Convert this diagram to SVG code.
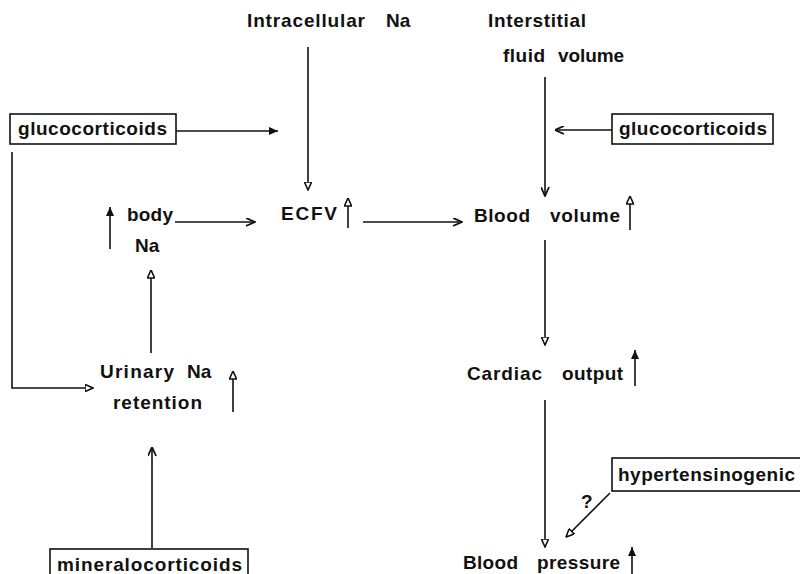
<svg xmlns="http://www.w3.org/2000/svg" width="800" height="574" viewBox="0 0 800 574">
<style>
text{font-family:"Liberation Sans",Arial,Helvetica,sans-serif;font-weight:bold;font-size:19px;fill:#111}
.ln{stroke:#111;stroke-width:1.6;fill:none}
.box{stroke:#111;stroke-width:1.6;fill:#fff}
</style>
<defs>
<marker id="tri" viewBox="0 0 10 10" refX="10" refY="5" markerWidth="9" markerHeight="8" markerUnits="userSpaceOnUse" orient="auto">
<path d="M0,0.5 L10,5 L0,9.5 z" fill="#fff" stroke="#111" stroke-width="2"/>
</marker>
<marker id="chev" viewBox="0 0 10 10" refX="10" refY="5" markerWidth="10" markerHeight="9" markerUnits="userSpaceOnUse" orient="auto">
<path d="M0,0.5 L10,5 L0,9.5" fill="none" stroke="#111" stroke-width="2"/>
</marker>
<marker id="fill" viewBox="0 0 10 10" refX="10" refY="5" markerWidth="10" markerHeight="9" markerUnits="userSpaceOnUse" orient="auto">
<path d="M0,0.5 L10,5 L0,9.5 z" fill="#111"/>
</marker>
</defs>
<rect width="800" height="574" fill="#fff"/>

<g id="intracellular-na">
<text><tspan x="247" y="27" textLength="118">Intracellular</tspan><tspan x="386" y="27">Na</tspan></text>
</g>
<g id="interstitial-fluid-volume">
<text x="488" y="27" textLength="98">Interstitial</text>
<text><tspan x="503" y="62" textLength="42">fluid</tspan><tspan x="558" y="62" textLength="66">volume</tspan></text>
</g>
<g id="glucocorticoids-left">
<rect class="box" x="10" y="114" width="166" height="30"/>
<text x="18" y="135" textLength="149">glucocorticoids</text>
</g>
<g id="glucocorticoids-right">
<rect class="box" x="612" y="114" width="161" height="30"/>
<text x="619" y="135" textLength="148">glucocorticoids</text>
</g>
<g id="body-na">
<text x="127" y="221" textLength="46">body</text>
<text x="135" y="252">Na</text>
<line class="ln" x1="110" y1="249" x2="110" y2="207" marker-end="url(#fill)"/>
</g>
<g id="ecfv">
<text x="281" y="220" textLength="56">ECFV</text>
<line class="ln" x1="348" y1="228" x2="348" y2="198" marker-end="url(#tri)"/>
</g>
<g id="blood-volume">
<text><tspan x="474" y="222" textLength="56">Blood</tspan><tspan x="550" y="222" textLength="70">volume</tspan></text>
<line class="ln" x1="630" y1="230" x2="630" y2="196" marker-end="url(#tri)"/>
</g>
<g id="urinary-na-retention">
<text><tspan x="100" y="378" textLength="74">Urinary</tspan><tspan x="187" y="378">Na</tspan></text>
<text x="113" y="409" textLength="89">retention</text>
<line class="ln" x1="233" y1="412" x2="233" y2="371" marker-end="url(#tri)"/>
</g>
<g id="cardiac-output">
<text><tspan x="467" y="380" textLength="75">Cardiac</tspan><tspan x="562" y="380" textLength="61">output</tspan></text>
<line class="ln" x1="635" y1="386" x2="635" y2="350" marker-end="url(#fill)"/>
</g>
<g id="hypertensinogenic">
<rect class="box" x="612" y="458" width="192" height="33"/>
<text x="618" y="481" textLength="177">hypertensinogenic</text>
</g>
<g id="mineralocorticoids">
<rect class="box" x="50" y="549" width="198" height="34"/>
<text x="57" y="571" textLength="185">mineralocorticoids</text>
</g>
<g id="blood-pressure">
<text><tspan x="463" y="569" textLength="55">Blood</tspan><tspan x="537" y="569" textLength="83">pressure</tspan></text>
<line class="ln" x1="632" y1="576" x2="632" y2="547" marker-end="url(#fill)"/>
</g>

<g id="connectors">
<line class="ln" x1="176" y1="131" x2="278" y2="131" marker-end="url(#fill)"/>
<polyline class="ln" points="12,152 12,388 93,388" marker-end="url(#tri)"/>
<line class="ln" x1="308" y1="47" x2="308" y2="190" marker-end="url(#tri)"/>
<line class="ln" x1="545" y1="77" x2="545" y2="196" marker-end="url(#chev)"/>
<line class="ln" x1="612" y1="130" x2="555" y2="130" marker-end="url(#chev)"/>
<line class="ln" x1="175" y1="222" x2="255" y2="222" marker-end="url(#chev)"/>
<line class="ln" x1="363" y1="222" x2="462" y2="222" marker-end="url(#chev)"/>
<line class="ln" x1="545" y1="240" x2="545" y2="345" marker-end="url(#tri)"/>
<line class="ln" x1="545" y1="400" x2="545" y2="547" marker-end="url(#tri)"/>
<line class="ln" x1="151" y1="353" x2="151" y2="270" marker-end="url(#tri)"/>
<line class="ln" x1="152" y1="548" x2="152" y2="447" marker-end="url(#chev)"/>
<line class="ln" x1="610" y1="493" x2="566" y2="537" marker-end="url(#tri)"/>
<text x="581" y="508">?</text>
</g>
</svg>
